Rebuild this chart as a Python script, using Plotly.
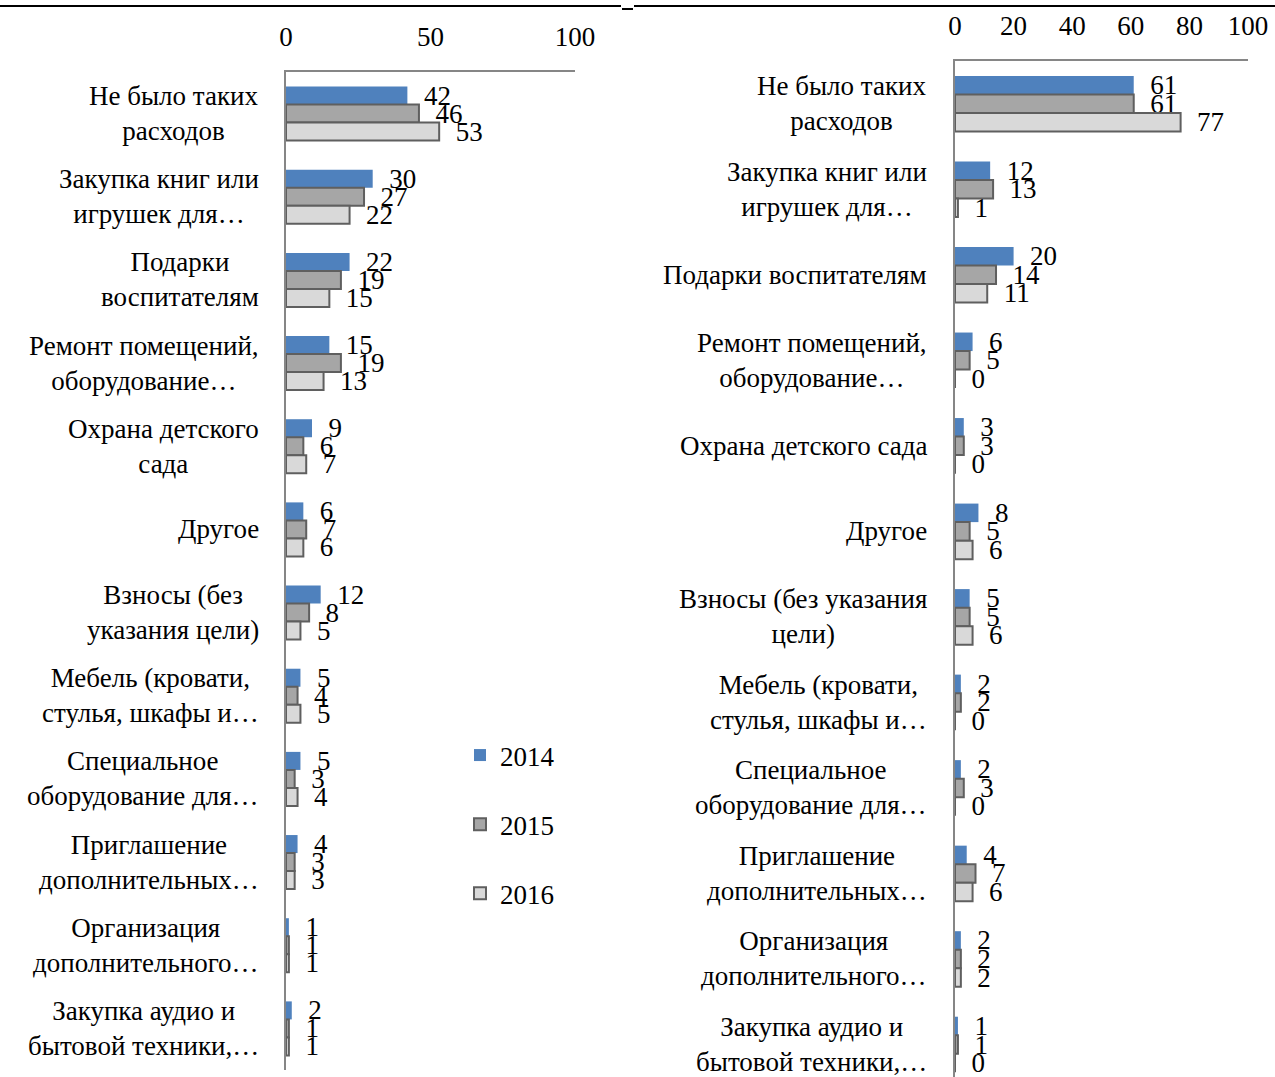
import plotly.graph_objects as go

years = ["2014", "2015", "2016"]

left_categories = [
    "Не было таких<br>расходов",
    "Закупка книг или<br>игрушек для…",
    "Подарки<br>воспитателям",
    "Ремонт помещений,<br>оборудование…",
    "Охрана детского<br>сада",
    "Другое",
    "Взносы (без<br>указания цели)",
    "Мебель (кровати,<br>стулья, шкафы и…",
    "Специальное<br>оборудование для…",
    "Приглашение<br>дополнительных…",
    "Организация<br>дополнительного…",
    "Закупка аудио и<br>бытовой техники,…",
]
left_2014 = [42, 30, 22, 15, 9, 6, 12, 5, 5, 4, 1, 2]
left_2015 = [46, 27, 19, 19, 6, 7, 8, 4, 3, 3, 1, 1]
left_2016 = [53, 22, 15, 13, 7, 6, 5, 5, 4, 3, 1, 1]

right_categories = [
    "Не было таких<br>расходов",
    "Закупка книг или<br>игрушек для…",
    "Подарки воспитателям",
    "Ремонт помещений,<br>оборудование…",
    "Охрана детского сада",
    "Другое",
    "Взносы (без указания<br>цели)",
    "Мебель (кровати,<br>стулья, шкафы и…",
    "Специальное<br>оборудование для…",
    "Приглашение<br>дополнительных…",
    "Организация<br>дополнительного…",
    "Закупка аудио и<br>бытовой техники,…",
]
right_2014 = [61, 12, 20, 6, 3, 8, 5, 2, 2, 4, 2, 1]
right_2015 = [61, 13, 14, 5, 3, 5, 5, 2, 3, 7, 2, 1]
right_2016 = [77, 1, 11, 0, 0, 6, 6, 0, 0, 6, 2, 0]

left_ticks = [0, 50, 100]
right_ticks = [0, 20, 40, 60, 80, 100]

FONT = "Liberation Serif"
FS = 27
fills = ["#4F81BD", "#A6A6A6", "#D9D9D9"]
borders = ["#4F81BD", "#5F5F5F", "#5F5F5F"]
bwidth = [0, 2, 2]
NB = "\u00a0\u00a0"

fig = go.Figure()

left_series = [left_2014, left_2015, left_2016]
right_series = [right_2014, right_2015, right_2016]

for i, yr in enumerate(years):
    fig.add_trace(go.Bar(
        x=left_series[i], y=[f"L{j}" for j in range(len(left_categories))],
        orientation="h", name=yr, xaxis="x", yaxis="y",
        marker=dict(color=fills[i], line=dict(color=borders[i], width=bwidth[i])),
        text=[NB + str(v) for v in left_series[i]], textposition="outside",
        textfont=dict(family=FONT, size=FS, color="black"),
        constraintext="none", cliponaxis=False,
        legendgroup=yr, showlegend=True,
    ))
for i, yr in enumerate(years):
    fig.add_trace(go.Bar(
        x=right_series[i], y=[f"R{j}" for j in range(len(right_categories))],
        orientation="h", name=yr, xaxis="x2", yaxis="y2",
        marker=dict(color=fills[i], line=dict(color=borders[i], width=bwidth[i])),
        text=[NB + str(v) for v in right_series[i]], textposition="outside",
        textfont=dict(family=FONT, size=FS, color="black"),
        constraintext="none", cliponaxis=False,
        legendgroup=yr, showlegend=False,
    ))

W, H = 1275, 1077
axis_col = "#868686"

def px_x(p):
    return p / W

def px_y(p):
    return 1 - p / H

annotations = []
for j, lab in enumerate(left_categories):
    annotations.append(dict(
        text=lab, xref="x domain", yref="y", x=0, y=f"L{j}",
        xanchor="right", yanchor="middle", xshift=-25, align="center",
        showarrow=False, font=dict(family=FONT, size=FS, color="black"),
    ))
for j, lab in enumerate(right_categories):
    annotations.append(dict(
        text=lab, xref="x2 domain", yref="y2", x=0, y=f"R{j}",
        xanchor="right", yanchor="middle", xshift=-26, align="center",
        showarrow=False, font=dict(family=FONT, size=FS, color="black"),
    ))

shapes = [
    dict(type="line", xref="paper", yref="paper", x0=0, x1=px_x(621),
         y0=px_y(6), y1=px_y(6), line=dict(color="black", width=2)),
    dict(type="line", xref="paper", yref="paper", x0=px_x(634), x1=1,
         y0=px_y(6), y1=px_y(6), line=dict(color="black", width=2)),
    dict(type="line", xref="paper", yref="paper", x0=px_x(622), x1=px_x(633),
         y0=px_y(9), y1=px_y(9), line=dict(color="black", width=2)),
]

fig.update_layout(
    width=W, height=H,
    margin=dict(l=0, r=0, t=0, b=0, autoexpand=False),
    paper_bgcolor="white", plot_bgcolor="white",
    font=dict(family=FONT, size=FS, color="black"),
    barmode="group", bargap=0.35, bargroupgap=0,
    showlegend=True,
    legend=dict(
        x=px_x(460), y=px_y(731), xanchor="left", yanchor="top",
        font=dict(family=FONT, size=FS, color="black"),
        tracegroupgap=31, itemwidth=30, bgcolor="rgba(0,0,0,0)",
    ),
    xaxis=dict(
        domain=[px_x(286), px_x(575)], range=[0, 100], side="top",
        tickvals=left_ticks, ticktext=[str(t) for t in left_ticks],
        showgrid=False, zeroline=False, showline=True, linecolor=axis_col,
        linewidth=2, ticks="", ticklabelstandoff=13, anchor="y",
        automargin=False,
        tickfont=dict(family=FONT, size=FS, color="black"),
    ),
    yaxis=dict(
        domain=[px_y(1070), px_y(72)], range=[11.5, -0.5],
        showticklabels=False, showgrid=False, zeroline=False,
        showline=True, linecolor=axis_col, linewidth=2, ticks="", anchor="x",
        automargin=False,
    ),
    xaxis2=dict(
        domain=[px_x(955), px_x(1248)], range=[0, 100], side="top",
        tickvals=right_ticks, ticktext=[str(t) for t in right_ticks],
        showgrid=False, zeroline=False, showline=True, linecolor=axis_col,
        linewidth=2, ticks="", ticklabelstandoff=13, anchor="y2",
        automargin=False,
        tickfont=dict(family=FONT, size=FS, color="black"),
    ),
    yaxis2=dict(
        domain=[0, px_y(61)], range=[11.38, -0.5],
        showticklabels=False, showgrid=False, zeroline=False,
        showline=True, linecolor=axis_col, linewidth=2, ticks="", anchor="x2",
        automargin=False,
    ),
    annotations=annotations,
    shapes=shapes,
)

fig.write_html(
    "out.html",
    config={"displayModeBar": False},
    post_script="document.body.style.margin='0px';document.body.style.overflow='hidden';",
)
